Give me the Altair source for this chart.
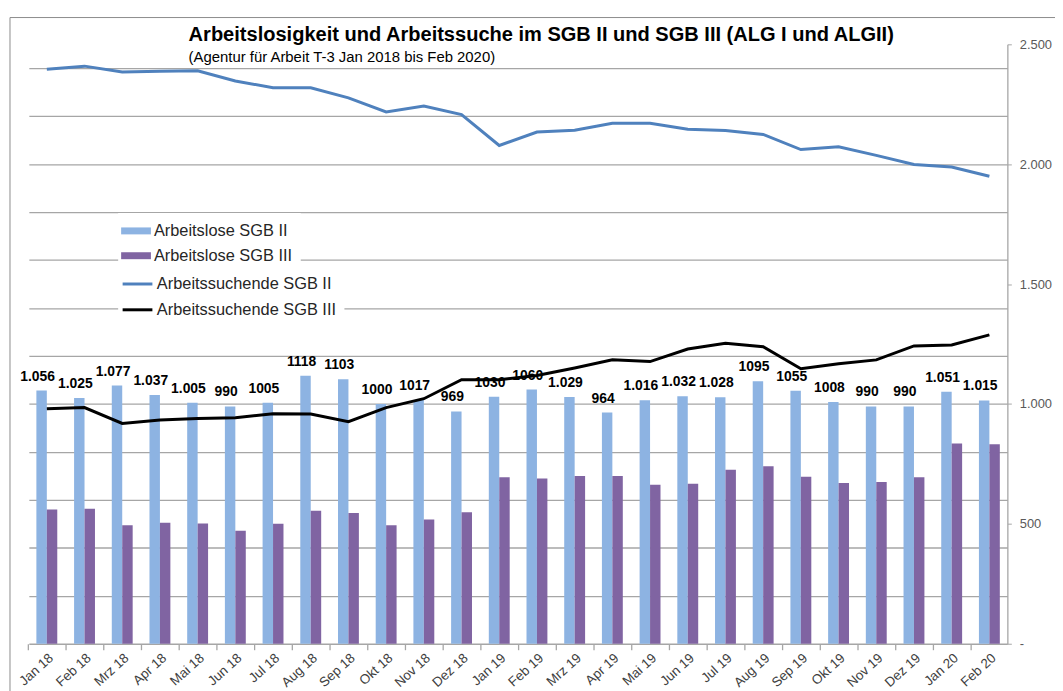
import altair as alt
import pandas as pd

months = ["Jan 18", "Feb 18", "Mrz 18", "Apr 18", "Mai 18", "Jun 18", "Jul 18", "Aug 18",
          "Sep 18", "Okt 18", "Nov 18", "Dez 18", "Jan 19", "Feb 19", "Mrz 19", "Apr 19",
          "Mai 19", "Jun 19", "Jul 19", "Aug 19", "Sep 19", "Okt 19", "Nov 19", "Dez 19",
          "Jan 20", "Feb 20"]

alo_sgb2 = [1056, 1025, 1077, 1037, 1005, 990, 1005, 1118, 1103, 1000, 1017, 969, 1030,
            1060, 1029, 964, 1016, 1032, 1028, 1095, 1055, 1008, 990, 990, 1051, 1015]
alo_sgb2_labels = ["1.056", "1.025", "1.077", "1.037", "1.005", "990", "1005", "1118", "1103",
                   "1000", "1017", "969", "1030", "1060", "1.029", "964", "1.016", "1.032",
                   "1.028", "1095", "1055", "1008", "990", "990", "1.051", "1.015"]
alo_sgb3 = [560, 563, 494, 505, 502, 471, 500, 555, 545, 494, 518, 548, 694,
            689, 700, 700, 663, 667, 726, 740, 697, 670, 675, 694, 835, 832]
as_sgb2 = [2396, 2409, 2385, 2388, 2390, 2347, 2319, 2319, 2277, 2218, 2243, 2207, 2078,
           2134, 2142, 2171, 2171, 2146, 2141, 2124, 2061, 2073, 2037, 1999, 1988, 1950]
as_sgb3 = [980, 985, 919, 933, 939, 943, 959, 958, 926, 985, 1022, 1101, 1101,
           1119, 1150, 1184, 1177, 1229, 1253, 1239, 1147, 1168, 1184, 1242, 1246, 1288]

series_names = ["Arbeitslose SGB II", "Arbeitslose SGB III",
                "Arbeitssuchende SGB II", "Arbeitssuchende SGB III"]
series_colors = ["#8DB3E2", "#8064A2", "#4F81BD", "#000000"]

grid_values = [200, 400, 600, 800, 1000, 1200, 1400, 1600, 1800, 2000, 2200, 2400]
right_ticks = [0, 500, 1000, 1500, 2000, 2500]

title_text = "Arbeitslosigkeit und Arbeitssuche im SGB II und SGB III (ALG I und ALGII)"
subtitle_text = "(Agentur für Arbeit T-3 Jan 2018 bis Feb 2020)"

n = len(months)
bars_df = pd.DataFrame({
    "month": months * 2,
    "series": [series_names[0]] * n + [series_names[1]] * n,
    "value": alo_sgb2 + alo_sgb3,
})
labels_df = pd.DataFrame({
    "month": months,
    "series": [series_names[0]] * n,
    "value": alo_sgb2,
    "label": alo_sgb2_labels,
})
lines_df = pd.DataFrame({
    "month": months * 2,
    "series": [series_names[2]] * n + [series_names[3]] * n,
    "value": as_sgb2 + as_sgb3,
})

FONT = "Liberation Sans"
GRID = "#A6A6A6"

xscale = alt.Scale(domain=months, paddingInner=0.446, paddingOuter=0.2)
yscale = alt.Scale(domain=[0, 2500], nice=False, zero=True)
xoff_scale = alt.Scale(domain=series_names[:2], paddingInner=0, paddingOuter=0)

bar_layer = alt.Chart(bars_df).mark_bar().encode(
    x=alt.X("month:N", sort=months, scale=xscale, title=None,
            axis=alt.Axis(orient="bottom", labelAngle=-42, labelAlign="right",
                          labelBaseline="top", ticks=False, domain=True, domainColor=GRID,
                          domainWidth=1.3, labelFont=FONT, labelFontSize=13.5,
                          labelColor="#404040", labelPadding=7)),
    xOffset=alt.XOffset("series:N", scale=xoff_scale),
    y=alt.Y("value:Q", scale=yscale, title=None,
            axis=alt.Axis(orient="left", values=grid_values, grid=True, labels=False,
                          ticks=False, domain=False, gridColor=GRID, gridWidth=1.3)),
    fill=alt.Fill("series:N", title=None,
                  scale=alt.Scale(domain=series_names[:2], range=series_colors[:2]),
                  legend=alt.Legend(orient="none", legendX=90, legendY=170,
                                    symbolType="M-1.5,-0.35H1.5V0.35H-1.5Z", symbolSize=400,
                                    symbolStrokeWidth=0, labelFont=FONT, labelFontSize=16.5,
                                    labelColor="#262626", labelOffset=8, rowPadding=6,
                                    labelLimit=400, padding=8, fillColor="white")),
)

line_layer = alt.Chart(lines_df).mark_line(strokeWidth=3).encode(
    x=alt.X("month:N", sort=months, scale=xscale, title=None,
            axis=alt.Axis(orient="bottom", labels=False, ticks=True, tickSize=6,
                          tickOffset=-19, tickColor=GRID, tickWidth=1.3, domain=False)),
    y=alt.Y("value:Q", scale=yscale, title=None,
            axis=alt.Axis(orient="right", values=right_ticks, grid=False,
                          labelExpr="datum.value == 0 ? '-' : replace(format(datum.value, ','), ',', '.')",
                          tickSize=4, tickColor=GRID, domainColor=GRID, domainWidth=1.3,
                          labelFont=FONT, labelFontSize=13, labelColor="#595959",
                          labelPadding=8)),
    stroke=alt.Stroke("series:N", title=None,
                      scale=alt.Scale(domain=series_names[2:], range=series_colors[2:]),
                      legend=alt.Legend(orient="none", legendX=90, legendY=222,
                                        symbolType="M-1.5,0H1.5", symbolSize=400,
                                        symbolStrokeWidth=3, labelFont=FONT, labelFontSize=16.5,
                                        labelColor="#262626", labelOffset=8, rowPadding=6,
                                        labelLimit=400, padding=8, fillColor="white")),
)

text_layer = alt.Chart(labels_df).mark_text(
    font=FONT, fontSize=14, fontWeight="bold", color="#000000",
    baseline="middle", dy=-14, dx=-4
).encode(
    x=alt.X("month:N", sort=months, scale=xscale, axis=None),
    xOffset=alt.XOffset("series:N", scale=xoff_scale),
    y=alt.Y("value:Q", scale=yscale, axis=None),
    text="label:N",
)

one = pd.DataFrame({"k": [0]})
frame_layer = alt.Chart(one).mark_rect(filled=False, stroke="#8C8C8C", strokeWidth=1).encode(
    x=alt.value(-19), x2=alt.value(1070), y=alt.value(-27), y2=alt.value(700)
)
title_layer = alt.Chart(one).mark_text(
    font=FONT, fontSize=20.2, fontWeight="bold", align="left",
    baseline="middle", color="#000000"
).encode(x=alt.value(161), y=alt.value(-9), text=alt.value(title_text))
subtitle_layer = alt.Chart(one).mark_text(
    font=FONT, fontSize=15, align="left", baseline="middle",
    color="#000000"
).encode(x=alt.value(161), y=alt.value(13), text=alt.value(subtitle_text))

chart = alt.layer(
    frame_layer, bar_layer, line_layer, text_layer, title_layer, subtitle_layer
).resolve_axis(
    x="independent", y="independent"
).resolve_legend(
    fill="independent", stroke="independent"
).properties(
    width=986, height=604,
    autosize=alt.AutoSizeParams(type="none"),
    padding={"left": 21, "top": 34, "right": 48, "bottom": 45},
).configure_view(stroke="transparent")

chart.save("out.html", embed_options={"renderer": "svg", "actions": False})
